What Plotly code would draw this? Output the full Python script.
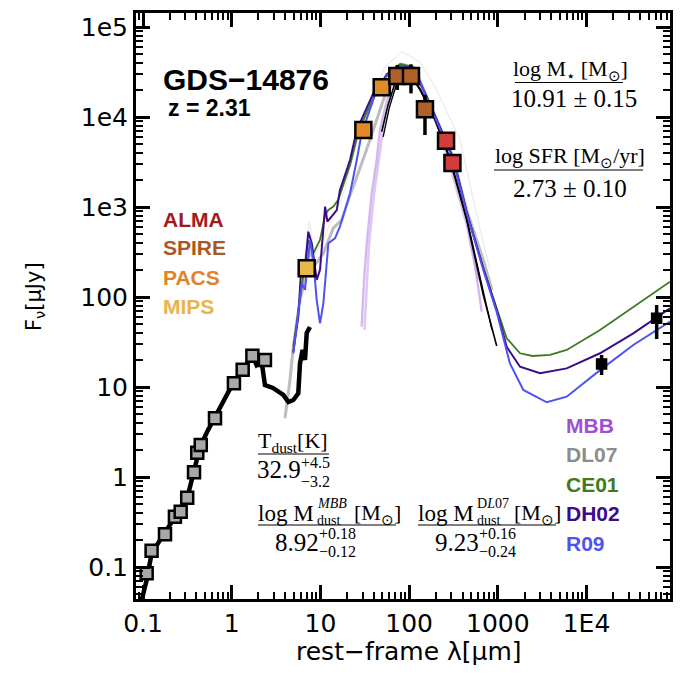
import plotly.graph_objects as go

# ---------------- data ----------------
# stellar photometry (grey squares)
opt_lam = [0.110, 0.125, 0.177, 0.229, 0.266, 0.315, 0.376, 0.409, 0.448, 0.648, 1.06, 1.33, 1.71, 2.37]
opt_flux = [0.085, 0.152, 0.231, 0.362, 0.411, 0.589, 1.13, 1.86, 2.27, 4.49, 11.0, 15.5, 22.3, 20.0]

mips_lam = [7.01]
mips_flux = [208]
pacs_lam = [30.5, 49.1]
pacs_flux = [7170, 21400]
spire_lam = [73.6, 105, 151]
spire_flux = [28600, 28600, 12200]
spire_err_hi = [9200, 9900, 5400]
spire_err_lo = [8600, 10300, 5890]
alma_lam = [261, 308]
alma_flux = [5460, 3080]
radio_lam = [14800, 61800]
radio_flux = [18.0, 58.0]
radio_err_hi = [4.7, 23.5]
radio_err_lo = [4.4, 23.9]

# stellar model (thick black)
stel_lam = [0.0967, 0.110, 0.1253, 0.1555, 0.177, 0.2296, 0.311, 0.369, 0.439, 0.527, 0.648, 0.777,
            1.04, 1.35, 1.71, 1.91, 2.18, 2.37, 2.92, 3.82, 4.35, 4.95, 5.63, 5.89, 6.3, 6.71, 7.01, 7.63]
stel_flux = [0.043, 0.0717, 0.143, 0.2, 0.239, 0.36, 0.555, 1.11, 2.15, 3.16, 4.64, 6.47,
             11.1, 15.5, 22.7, 17.5, 18.9, 10.5, 9.75, 8.15, 6.81, 7.17, 8.5, 18.3, 25.8, 20.0, 39.8, 46.4]

# CE01
ce01_lam = [4.95, 5.89, 6.71, 7.31, 8.32, 9.08, 9.90, 11.3, 12.3, 14.0, 15.9, 21.6, 27.2, 39.5, 55.9, 79.0,
            111, 158, 223, 315, 446, 686, 972, 1260, 1780, 2470, 3880, 5980, 14200, 33700, 87400]
ce01_flux = [28.0, 92.6, 227, 430, 306, 362, 430, 815, 926, 1010, 1200, 2930, 7170, 16300, 30000, 38800,
             35900, 16800, 7740, 3330, 880, 210, 74.9, 34.8, 23.7, 22.1, 22.7, 25.8, 43.0, 78.0, 148]

# DH02
dh02_lam = [4.95, 5.63, 6.16, 6.58, 7.31, 7.98, 9.08, 9.90, 11.3, 12.0, 15.3, 16.6, 21.6, 25.7, 39.5, 55.9,
            79.0, 111, 158, 223, 315, 446, 686, 972, 1260, 1780, 2990, 5980, 14200, 33700, 87400]
dh02_flux = [24.7, 60.4, 258, 168, 532, 395, 155, 200, 1010, 687, 926, 1540, 3330, 7170, 18300, 29300,
             36900, 35000, 16700, 7740, 3500, 880, 210, 71.7, 28.0, 16.8, 14.2, 16.1, 23.7, 39.5, 74.9]

# R09
r09_lam = [4.95, 5.41, 6.16, 6.71, 7.63, 8.32, 9.08, 9.90, 10.8, 12.3, 14.6, 16.6, 21.6, 25.7, 29.2, 43.1,
           60.9, 83.2, 117, 158, 223, 315, 446, 686, 972, 1370, 1940, 3560, 5980, 14200, 33700, 87400]
r09_flux = [23.7, 51.0, 142, 120, 430, 258, 92.6, 51.0, 85.1, 395, 449, 604, 1420, 3330, 6590, 19950,
            31900, 36900, 33300, 16300, 7550, 3330, 858, 200, 68.1, 18.3, 9.26, 6.76, 7.80, 15.4, 29.3, 53.2]

# DL07 (main band and faint upper envelope)
dl07_lam = [3.99, 4.54, 4.95, 5.89, 6.71, 7.50, 8.69, 10.8, 14.0, 17.4, 21.6, 23.5, 36.2, 55.9, 82.5,
            117, 158, 223, 315, 446, 686, 860]
dl07_flux = [4.49, 12.0, 28.0, 92.6, 155, 333, 227, 306, 585, 717, 1360, 1680, 5550, 19950, 38800,
             35000, 16700, 7740, 3500, 926, 258, 120]
dl07_env_lam = [4.54, 5.89, 7.50, 8.69, 10.8, 14.0, 17.4, 24.5, 36.2, 53.5, 82.5, 133, 205, 375, 686, 817]
dl07_env_flux = [15.4, 120, 687, 293, 430, 815, 1200, 4300, 15400, 35900, 53200, 40800, 19950, 5550, 395, 200]

# MBB fits (purple ensemble, two edges) and best fits (black)
mbb_a_lam = [29.2, 31.0, 33.3, 37.9, 43.1, 47.0, 53.5, 60.9, 69.3, 79.0, 89.9, 108, 133, 172, 223, 315, 446, 553, 658]
mbb_a_flux = [46.8, 150, 395, 1420, 3330, 7170, 12600, 19950, 27100, 33300, 35000, 31600, 22700, 12600,
              7170, 2930, 717, 227, 68.7]
mbb_b_lam = [31.4, 35.3, 40.2, 45.8, 50.8, 64.1, 83.2, 102, 133, 223, 446, 598]
mbb_b_flux = [43.0, 378, 1360, 3330, 7170, 17600, 29300, 30000, 21000, 6810, 631, 155]
mbbfit_lam = [49.1, 57.8, 69.3, 83.2, 102, 133, 196, 289, 446, 578, 686, 972]
mbbfit_flux = [6870, 13600, 23700, 31600, 30000, 19950, 9260, 3330, 717, 227, 105, 28.6]
mbbfit2_lam = [51.0, 60.0, 72.0, 86.0, 105, 135, 200, 295, 446, 600, 860]
mbbfit2_flux = [6000, 12800, 23000, 30800, 29500, 20000, 9000, 3300, 760, 200, 43.0]

# axis ticks
x_tickvals = [0.1, 1, 10, 100, 1000, 10000]
x_ticktext = ["0.1", "1", "10", "100", "1000", "1E4"]
y_tickvals = [0.1, 1, 10, 100, 1000, 10000, 100000]
y_ticktext = ["0.1", "1", "10", "100", "1e3", "1e4", "1e5"]
minor_mult = [2, 3, 4, 5, 6, 7, 8, 9]

# legends
left_labels = ["ALMA", "SPIRE", "PACS", "MIPS"]
left_colors = ["#a11b1b", "#a85a26", "#e0822a", "#e8b44c"]
right_labels = ["MBB", "DL07", "CE01", "DH02", "R09"]
right_colors = ["#a050d0", "#8c8c8c", "#3f7a1e", "#3a0c8a", "#4f52f2"]

# ---------------- figure ----------------
W, H = 683, 675
L, R, T, B = 136, 13, 13, 76
XR = [-1.0789, 4.9414]
YR = [-1.3556, 5.1556]
SERIF = "Liberation Serif"
SANS = "Liberation Sans"

fig = go.Figure()


def line(x, y, color, width, opacity=1.0):
    fig.add_trace(go.Scatter(x=x, y=y, mode="lines", opacity=opacity,
                             line=dict(color=color, width=width), showlegend=False,
                             hoverinfo="skip"))


line(dl07_env_lam, dl07_env_flux, "#ebebeb", 1.2)
line(dl07_lam, dl07_flux, "#bdbdbd", 3.0)
line(mbb_a_lam, mbb_a_flux, "#b57ee6", 2.4, 0.55)
line(mbb_b_lam, mbb_b_flux, "#c49aec", 2.4, 0.55)
line(mbbfit2_lam, mbbfit2_flux, "black", 1.3)
line(mbbfit_lam, mbbfit_flux, "black", 1.6)
line(ce01_lam, ce01_flux, "#3f7a1e", 1.8)
line(dh02_lam, dh02_flux, "#3a0c8a", 2.0)
line(r09_lam, r09_flux, "#4f52f2", 2.0)
line(stel_lam, stel_flux, "black", 4.5)


def pts(x, y, color, size, ehi=None, elo=None):
    err = None
    if ehi is not None:
        err = dict(type="data", symmetric=False, array=ehi, arrayminus=elo,
                   color="black", thickness=3.5, width=0)
    fig.add_trace(go.Scatter(x=x, y=y, mode="markers", error_y=err, showlegend=False,
                             marker=dict(symbol="square", size=size, color=color,
                                         line=dict(color="black", width=2.5)),
                             hoverinfo="skip"))


pts(opt_lam, opt_flux, "#a8a8a8", 12)
pts(mips_lam, mips_flux, "#e8b84a", 16)
pts(pacs_lam, pacs_flux, "#e08a2a", 16)
pts(spire_lam, spire_flux, "#b0602a", 16, spire_err_hi, spire_err_lo)
pts(alma_lam, alma_flux, "#d23c3c", 16)
pts(radio_lam, radio_flux, "black", 9, radio_err_hi, radio_err_lo)

# ---- axes: main (labels + short ticks for every sub-decade), overlays for long major ticks
x_all = sorted(x_tickvals + [m * v for v in [0.01] + x_tickvals for m in minor_mult])
y_all = sorted(y_tickvals + [m * v for v in [0.01] + y_tickvals for m in minor_mult])
x_all_text = [x_ticktext[x_tickvals.index(v)] if v in x_tickvals else "" for v in x_all]
y_all_text = [y_ticktext[y_tickvals.index(v)] if v in y_tickvals else "" for v in y_all]

base = dict(type="log", ticks="inside", tickcolor="black", showgrid=False, zeroline=False,
            tickfont=dict(family="DejaVu Sans", size=25, color="black"), tickmode="array")
short = dict(ticklen=7, tickwidth=2)
long_ = dict(ticklen=14, tickwidth=2.5)

layout_axes = dict(
    xaxis=dict(range=XR, tickvals=x_all, ticktext=x_all_text, showline=True, linewidth=3,
               linecolor="black", mirror=True, side="bottom", **short, **base),
    xaxis2=dict(range=XR, tickvals=x_tickvals, showticklabels=False, overlaying="x", anchor="y",
                side="bottom", showline=False, **long_, **base),
    xaxis3=dict(range=XR, tickvals=x_all, showticklabels=False, overlaying="x", anchor="y",
                side="top", showline=False, **short, **base),
    xaxis4=dict(range=XR, tickvals=x_tickvals, showticklabels=False, overlaying="x", anchor="y",
                side="top", showline=False, **long_, **base),
    yaxis=dict(range=YR, tickvals=y_all, ticktext=y_all_text, showline=True, linewidth=3,
               linecolor="black", mirror=True, side="left", **short, **base),
    yaxis2=dict(range=YR, tickvals=y_tickvals, showticklabels=False, overlaying="y", anchor="x",
                side="left", showline=False, **long_, **base),
    yaxis3=dict(range=YR, tickvals=y_all, showticklabels=False, overlaying="y", anchor="x",
                side="right", showline=False, **short, **base),
    yaxis4=dict(range=YR, tickvals=y_tickvals, showticklabels=False, overlaying="y", anchor="x",
                side="right", showline=False, **long_, **base),
)
fig.update_layout(template="none", **layout_axes)

# invisible anchors so each overlay axis belongs to a drawn subplot
for xa, ya in [("x2", "y"), ("x3", "y"), ("x4", "y"), ("x", "y2"), ("x", "y3"), ("x", "y4")]:
    fig.add_trace(go.Scatter(x=[x_tickvals[1]], y=[y_tickvals[1]], xaxis=xa, yaxis=ya,
                             mode="markers", marker=dict(size=1, opacity=0),
                             showlegend=False, hoverinfo="skip"))


def P(px, py):
    return (px - L) / (W - L - R), (H - B - py) / (H - T - B)


def txt(s, px, py, size, color="black", family=SERIF, xanchor="left", angle=0):
    x, y = P(px, py)
    fig.add_annotation(text=s, x=x, y=y, xref="paper", yref="paper", xanchor=xanchor,
                       yanchor="middle", showarrow=False, textangle=angle, borderpad=0,
                       font=dict(size=size, color=color, family=family))


def hline(px0, px1, py):
    x0, y0 = P(px0, py)
    x1, _ = P(px1, py)
    fig.add_shape(type="line", xref="paper", yref="paper", x0=x0, x1=x1, y0=y0, y1=y0,
                  line=dict(color="black", width=1.2))


# axis titles
txt("rest\u2212frame \u03bb[\u03bcm]", 409, 652, 25, family="DejaVu Sans", xanchor="center")
txt("F<sub>\u03bd</sub>[\u03bcJy]", 35, 297, 21, family="DejaVu Sans", xanchor="center", angle=-90)

# object name
txt("<b>GDS\u221214876</b>", 162, 79, 30, family=SANS)
txt("<b>z = 2.31</b>", 167, 108, 23, family=SANS)

# legends
for i, (lab, col) in enumerate(zip(left_labels, left_colors)):
    txt("<b>%s</b>" % lab, 162, 219 + 29 * i, 21, color=col, family=SANS)
for i, (lab, col) in enumerate(zip(right_labels, right_colors)):
    txt("<b>%s</b>" % lab, 565, 425 + 29.5 * i, 21, color=col, family=SANS)

# stellar mass and SFR
txt("log M<sub>\u22c6</sub> [M<sub>\u2299</sub>]", 570, 70, 22, xanchor="center")
hline(515, 623, 82.5)
txt("10.91 \u00b1 0.15", 574, 99, 25, xanchor="center")
txt("log SFR [M<sub>\u2299</sub>/yr]", 570, 157, 22, xanchor="center")
hline(494, 643, 170)
txt("2.73 \u00b1 0.10", 570, 188, 25, xanchor="center")

# dust temperature
txt("T<sub>dust</sub>[K]", 257, 442, 22)
hline(258, 329, 454)
txt("32.9", 256, 469, 25)
txt("+4.5", 300, 462, 16)
txt("\u22123.2", 300, 481, 16)

# dust masses
for dx, sup, val, vhi, vlo in [(0, "<i>MBB</i>", "8.92", "+0.18", "\u22120.12"),
                               (160, "D<i>L</i>07", "9.23", "+0.16", "\u22120.24")]:
    txt("log M", 257 + dx, 513, 23)
    txt(sup, 316 + dx, 503, 14)
    txt("dust", 316 + dx, 520, 14)
    txt("[M<sub>\u2299</sub>]", 353 + dx, 514, 22)
    hline(258 + dx, 396 + dx, 525)
    txt(val, 274 + dx, 542, 25)
    txt(vhi, 318 + dx, 533, 16)
    txt(vlo, 318 + dx, 551, 16)

fig.update_layout(width=W, height=H, margin=dict(l=L, r=R, t=T, b=B),
                  paper_bgcolor="white", plot_bgcolor="white", showlegend=False)

fig.write_html("out.html", config={"displayModeBar": False},
               post_script="document.body.style.margin='0';document.body.style.padding='0';")
